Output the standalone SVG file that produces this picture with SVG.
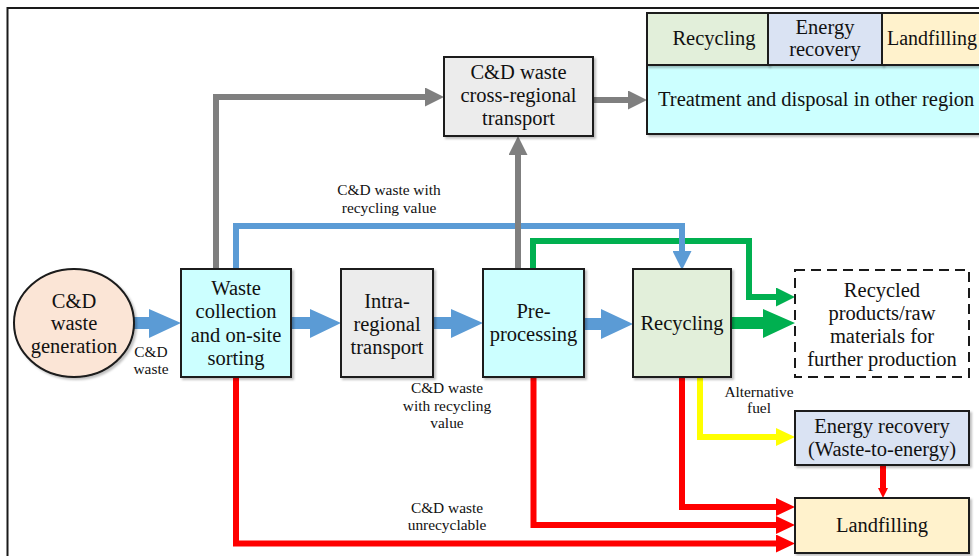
<svg xmlns="http://www.w3.org/2000/svg" width="979" height="556" viewBox="0 0 979 556">
  <style>
    .box { stroke: #1a1a1a; stroke-width: 2; filter: url(#shadow); }
    .t { font-family: "Liberation Serif", "Times New Roman", serif; font-size: 20.5px; fill: #111; text-anchor: middle; }
    .s { font-family: "Liberation Serif", "Times New Roman", serif; font-size: 15.4px; fill: #111; text-anchor: middle; }
    .ln { fill: none; stroke-width: 6; stroke-linejoin: miter; stroke-linecap: butt; }
    .cyan { fill: #ccffff; }
    .grey { fill: #ececec; }
    .green { fill: #e2efda; }
    .lav { fill: #dae3f3; }
    .sand { fill: #fff2cc; }
  </style>
  <defs>
    <filter id="shadow" x="-10%" y="-10%" width="130%" height="130%">
      <feDropShadow dx="2" dy="2" stdDeviation="1.2" flood-color="#000" flood-opacity="0.25"/>
    </filter>
    <marker id="hGrey" markerUnits="userSpaceOnUse" viewBox="0 0 19 19" markerWidth="19" markerHeight="19" refX="0" refY="9.5" orient="auto">
      <path d="M0,0 L19,9.5 L0,19 z" fill="#7f7f7f"/>
    </marker>
    <marker id="hBlue" markerUnits="userSpaceOnUse" viewBox="0 0 19 19" markerWidth="19" markerHeight="19" refX="0" refY="9.5" orient="auto">
      <path d="M0,0 L19,9.5 L0,19 z" fill="#5b9bd5"/>
    </marker>
    <marker id="hGreen" markerUnits="userSpaceOnUse" viewBox="0 0 19 19" markerWidth="19" markerHeight="19" refX="0" refY="9.5" orient="auto">
      <path d="M0,0 L19,9.5 L0,19 z" fill="#00b050"/>
    </marker>
    <marker id="hRed" markerUnits="userSpaceOnUse" viewBox="0 0 19 18" markerWidth="19" markerHeight="18" refX="0" refY="9" orient="auto">
      <path d="M0,0 L19,9 L0,18 z" fill="#ff0000"/>
    </marker>
    <marker id="hYellow" markerUnits="userSpaceOnUse" viewBox="0 0 19 18" markerWidth="19" markerHeight="18" refX="0" refY="9" orient="auto">
      <path d="M0,0 L19,9 L0,18 z" fill="#ffff00"/>
    </marker>
    <marker id="hRedSmall" markerUnits="userSpaceOnUse" viewBox="0 0 10 10" markerWidth="10" markerHeight="10" refX="0" refY="5" orient="auto">
      <path d="M0,0 L10,5 L0,10 z" fill="#ff0000"/>
    </marker>
  </defs>

  <rect width="979" height="556" fill="#ffffff"/>
  <!-- outer frame (continues past the right and bottom edges) -->
  <rect x="7.5" y="8" width="1000" height="600" fill="none" stroke="#1a1a1a" stroke-width="2"/>

  <!-- connectors -->
  <g id="connectors">
    <!-- green route to recycled products -->
    <path class="ln" stroke="#00b050" d="M533,269 V241 H749 V297 H776" marker-end="url(#hGreen)"/>
    <!-- blue route: waste with recycling value -->
    <path class="ln" stroke="#5b9bd5" stroke-width="5.5" d="M236,269 V226 H682 V251" marker-end="url(#hBlue)"/>
    <!-- grey routes: cross-regional transport -->
    <path class="ln" stroke="#7f7f7f" d="M216,269 V97 H425" marker-end="url(#hGrey)"/>
    <path class="ln" stroke="#7f7f7f" d="M518,269 V155" marker-end="url(#hGrey)"/>
    <path class="ln" stroke="#7f7f7f" stroke-width="7" d="M593,100 H628" marker-end="url(#hGrey)"/>
    <!-- red routes to landfilling -->
    <path class="ln" stroke="#ff0000" d="M236,377 V543.5 H776" marker-end="url(#hRed)"/>
    <path class="ln" stroke="#ff0000" d="M533.5,377 V525 H776" marker-end="url(#hRed)"/>
    <path class="ln" stroke="#ff0000" d="M682,377 V507 H776" marker-end="url(#hRed)"/>
    <path class="ln" stroke="#ff0000" stroke-width="2" d="M883,465 V488" marker-end="url(#hRedSmall)"/>
    <!-- yellow route: alternative fuel -->
    <path class="ln" stroke="#ffff00" d="M700,377 V437 H776" marker-end="url(#hYellow)"/>
    <!-- block arrows of the main chain -->
    <polygon fill="#5b9bd5" points="133,317 149,317 149,309 181,323 149,338 149,329 133,329"/>
    <polygon fill="#5b9bd5" points="291,317 310,317 310,309 341,323 310,338 310,329 291,329"/>
    <polygon fill="#5b9bd5" points="433,317 451,317 451,309 483,323 451,338 451,329 433,329"/>
    <polygon fill="#5b9bd5" points="584,318 601,318 601,309 633,324 601,339 601,330 584,330"/>
    <polygon fill="#00b050" points="731,317 763,317 763,309 795,323 763,338 763,329 731,329"/>
    <!-- connector labels -->
    <text class="s" x="151" y="357">C&amp;D</text>
    <text class="s" x="151" y="374">waste</text>
    <text class="s" x="389" y="195">C&amp;D waste with</text>
    <text class="s" x="389" y="213">recycling value</text>
    <text class="s" x="447" y="393">C&amp;D waste</text>
    <text class="s" x="447" y="411">with recycling</text>
    <text class="s" x="447" y="428">value</text>
    <text class="s" x="447" y="513">C&amp;D waste</text>
    <text class="s" x="447" y="530">unrecyclable</text>
    <text class="s" x="759" y="397">Alternative</text>
    <text class="s" x="759" y="413">fuel</text>
  </g>

  <!-- nodes -->
  <g id="generation">
    <ellipse class="box" cx="74" cy="323" rx="60" ry="54" fill="#fbe5d6"/>
    <text class="t" x="74" y="308">C&amp;D</text>
    <text class="t" x="74" y="330">waste</text>
    <text class="t" x="74" y="353">generation</text>
  </g>

  <g id="collection">
    <rect class="box cyan" x="181" y="269" width="110" height="108"/>
    <text class="t" x="236" y="295">Waste</text>
    <text class="t" x="236" y="318">collection</text>
    <text class="t" x="236" y="342">and on-site</text>
    <text class="t" x="236" y="365">sorting</text>
  </g>

  <g id="intra-transport">
    <rect class="box grey" x="341" y="269" width="92" height="108"/>
    <text class="t" x="387" y="308">Intra-</text>
    <text class="t" x="387" y="331">regional</text>
    <text class="t" x="387" y="354">transport</text>
  </g>

  <g id="preprocessing">
    <rect class="box cyan" x="483" y="269" width="101" height="108"/>
    <text class="t" x="533.5" y="318">Pre-</text>
    <text class="t" x="533.5" y="341">processing</text>
  </g>

  <g id="recycling">
    <rect class="box green" x="633" y="269" width="98" height="108"/>
    <text class="t" x="682" y="330">Recycling</text>
  </g>

  <g id="recycled-products">
    <rect x="795" y="270" width="174" height="107" fill="#ffffff" stroke="#1a1a1a" stroke-width="2" stroke-dasharray="10,6"/>
    <text class="t" x="882" y="297">Recycled</text>
    <text class="t" x="882" y="320">products/raw</text>
    <text class="t" x="882" y="343">materials for</text>
    <text class="t" x="882" y="366">further production</text>
  </g>

  <g id="energy-recovery">
    <rect class="box lav" x="795" y="411" width="174" height="54"/>
    <text class="t" x="882" y="433">Energy recovery</text>
    <text class="t" x="882" y="456">(Waste-to-energy)</text>
  </g>

  <g id="landfilling">
    <rect class="box sand" x="795" y="498" width="174" height="55"/>
    <text class="t" x="882" y="532">Landfilling</text>
  </g>

  <g id="cross-regional">
    <rect class="box grey" x="444" y="57" width="149" height="79"/>
    <text class="t" x="518.5" y="79">C&amp;D waste</text>
    <text class="t" x="518.5" y="102">cross-regional</text>
    <text class="t" x="518.5" y="125">transport</text>
  </g>

  <g id="other-regions">
    <rect class="box cyan" x="647" y="65" width="360" height="69"/>
    <rect class="box green" x="647" y="13" width="121" height="52"/>
    <rect class="box lav" x="768" y="13" width="114" height="52"/>
    <rect class="box sand" x="882" y="13" width="125" height="52"/>
    <text class="t" x="714" y="45">Recycling</text>
    <text class="t" x="825" y="34">Energy</text>
    <text class="t" x="825" y="56">recovery</text>
    <text class="t" x="887" y="45" style="text-anchor:start;font-size:20px">Landfilling</text>
    <text class="t" x="658" y="106" style="text-anchor:start">Treatment and disposal in other region</text>
  </g>
</svg>
